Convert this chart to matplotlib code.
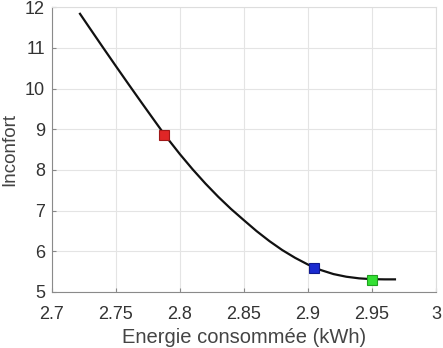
import matplotlib
matplotlib.use("Agg")
import matplotlib.pyplot as plt

plt.rcParams["font.family"] = ["Liberation Sans", "DejaVu Sans"]

# Pareto front
energie = [2.722, 2.73, 2.74, 2.75, 2.76, 2.77, 2.78, 2.788, 2.80, 2.81, 2.82,
           2.83, 2.84, 2.85, 2.86, 2.87, 2.88, 2.89, 2.90, 2.905, 2.91, 2.92,
           2.93, 2.94, 2.95, 2.96, 2.968]
inconfort = [11.84, 11.47, 11.01, 10.555, 10.105, 9.66, 9.22, 8.87, 8.39, 8.015, 7.665,
             7.34, 7.04, 6.765, 6.495, 6.25, 6.03, 5.84, 5.675, 5.605, 5.54, 5.44,
             5.375, 5.335, 5.315, 5.31, 5.31]

pts_x = [2.788, 2.905, 2.95]
pts_y = [8.87, 5.59, 5.30]
pts_col = ["#e02626", "#1a2ad0", "#33e033"]
pts_edge = ["#a01818", "#101a90", "#20a020"]

xticks = [2.7, 2.75, 2.8, 2.85, 2.9, 2.95, 3]
xlabels = ["2.7", "2.75", "2.8", "2.85", "2.9", "2.95", "3"]
yticks = [5, 6, 7, 8, 9, 10, 11, 12]

fig = plt.figure(figsize=(4.43, 3.48), dpi=100)
ax = fig.add_axes([0.117, 0.161, 0.867, 0.818])
ax.plot(energie, inconfort, color="#111111", lw=1.6, zorder=3)
for x, y, c, e in zip(pts_x, pts_y, pts_col, pts_edge):
    ax.plot([x], [y], "s", ms=7, color=c, mec=e, mew=0.8, zorder=4)

ax.set_xlim(2.7, 3.0)
ax.set_ylim(5, 12)
ax.set_xticks(xticks, xlabels)
ax.set_yticks(yticks)
ax.grid(True, color="#e4e4e4", lw=0.8)
ax.set_axisbelow(True)
ax.tick_params(direction="in", length=3, colors="#888888", labelcolor="#333333",
               labelsize=13)
ax.tick_params(axis="x", pad=10)
ax.tick_params(axis="y", pad=5)
for s in ("left", "bottom"):
    ax.spines[s].set_color("#8a8a8a")
for s in ("top", "right"):
    ax.spines[s].set_color("#dddddd")
ax.set_xlabel("Energie consommée (kWh)", fontsize=14.5, color="#444444", labelpad=4)
ax.set_ylabel("Inconfort", fontsize=13.5, color="#444444", labelpad=5)

fig.savefig("out.png", dpi=100, facecolor="white")
